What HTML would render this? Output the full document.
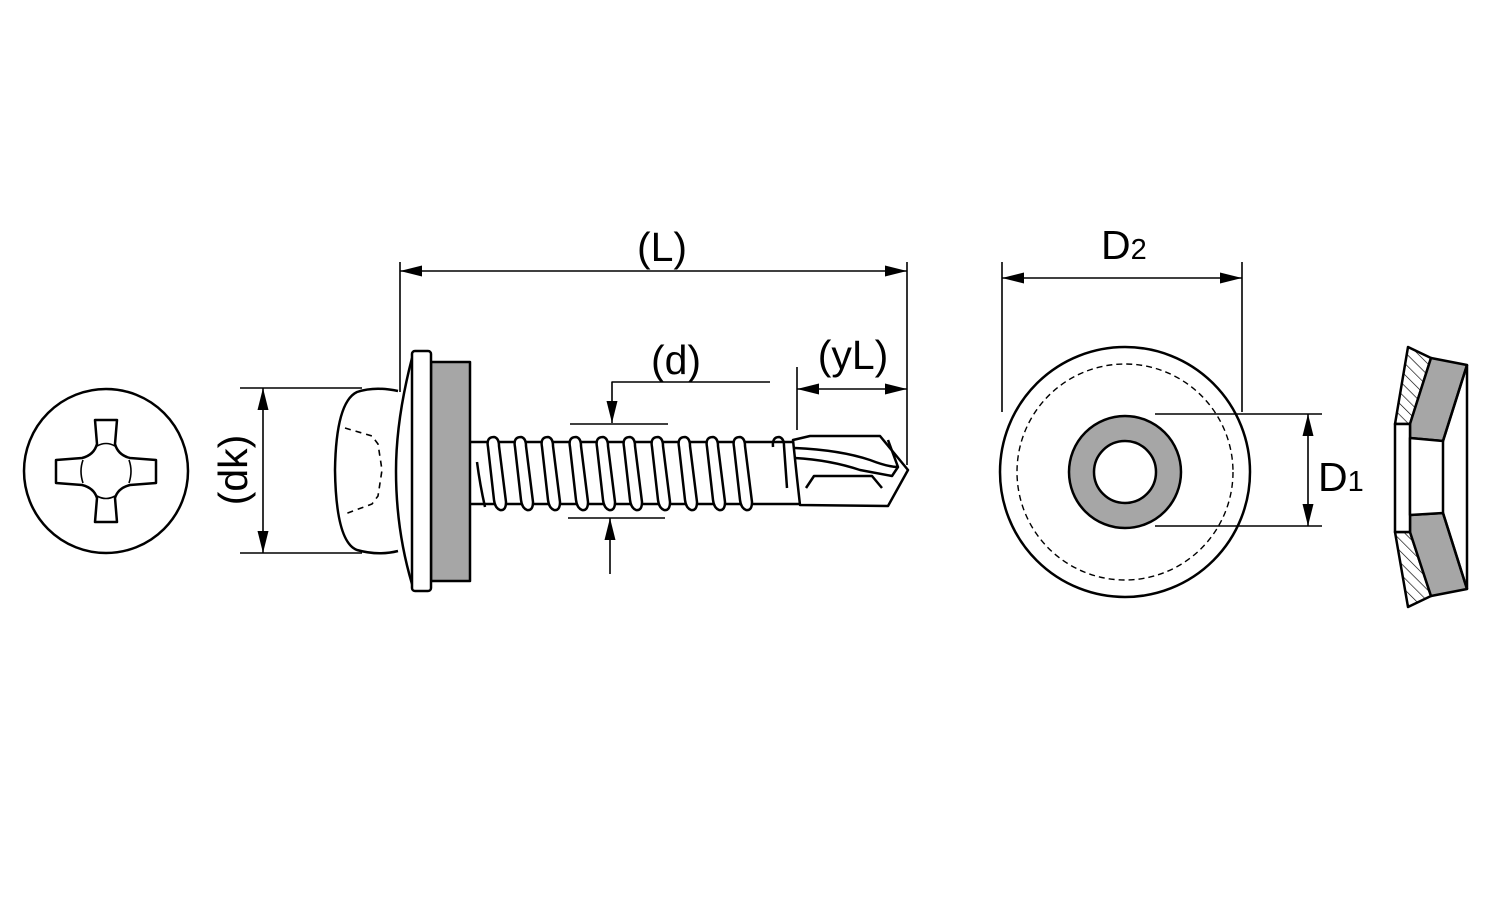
<!DOCTYPE html>
<html><head><style>body{margin:0;background:#fff}svg{display:block}text{font-family:"Liberation Sans",Arial,sans-serif;fill:#000}</style></head><body>
<svg width="1500" height="900" viewBox="0 0 1500 900" xmlns="http://www.w3.org/2000/svg">
<defs>
<marker id="b" viewBox="0 0 20 10" refX="20" refY="5" markerWidth="22" markerHeight="11" markerUnits="userSpaceOnUse" orient="auto-start-reverse"><path d="M0,0 L20,5 L0,10z" fill="#000"/></marker>
<pattern id="h" width="8" height="8" patternUnits="userSpaceOnUse" patternTransform="rotate(-45)"><line x1="0" y1="0" x2="0" y2="8" stroke="#000" stroke-width="1.3"/></pattern>
</defs>
<g fill="none" stroke="#000" stroke-width="2.5" stroke-linejoin="round">
<!-- head top view -->
<circle cx="106" cy="471" r="82"/>
<path d="M95,420 L117,420 L115,444 Q118,455 130,458 L156,460 L156,483 L130,485 Q118,488 115,498 L117,522 L95,522 L97,498 Q94,488 82,485 L56,483 L56,460 L82,458 Q94,455 97,444 Z" fill="#fff"/>
<path d="M97,446 Q106,441 115,446 M129,460 Q133,471 129,483 M115,496 Q106,501 97,496 M83,483 Q79,471 83,460" stroke-width="1.6"/>
<!-- dk -->
<line x1="240" y1="388" x2="362" y2="388" stroke-width="1.6"/>
<line x1="240" y1="553" x2="362" y2="553" stroke-width="1.6"/>
<line x1="263" y1="388" x2="263" y2="553" stroke-width="1.6" marker-start="url(#b)" marker-end="url(#b)"/>
<!-- screw head -->
<path d="M398,391 Q375,386 357,392 Q336,402 335,470 Q336,542 357,550 Q378,556 398,551" fill="#fff"/>
<path d="M345,428 L372,436 L378,444 L382,470 L378,496 L372,504 L345,514" stroke-width="1.6" stroke-dasharray="6,5"/>
<path d="M412,358 Q396,420 396,471 Q396,530 412,584"/>
<rect x="431" y="362" width="39" height="219" fill="#a6a6a6"/>
<rect x="412" y="351" width="19" height="240" rx="3" fill="#fff"/>
<!-- shank -->
<line x1="470" y1="442" x2="800" y2="442"/>
<line x1="470" y1="504" x2="800" y2="504"/>
<path d="M477,462 Q480,485 485,507"/>
<g id="t">
<path d="M488,447 Q486,437 494,437 Q499,438 499,446 L506,502 Q506,511 500,510 Q495,508 494,500 Z" fill="#fff"/>
</g>
<use href="#t" x="27"/><use href="#t" x="54"/><use href="#t" x="82"/><use href="#t" x="109"/><use href="#t" x="136"/><use href="#t" x="164"/><use href="#t" x="191"/><use href="#t" x="219"/><use href="#t" x="246"/>
<path d="M773,447 Q772,437 779,437 Q784,438 784,446 L787,488"/>
<!-- drill tip -->
<path d="M793,440 L810,436 L880,436 L908,470 L888,506 L800,505 L797,478 Z" fill="#fff"/>
<path d="M795,448 Q840,450 870,460 Q888,467 898,467 L888,440 M795,458 Q830,460 860,470 L892,476 L898,467"/>
<path d="M806,488 L814,476 L872,476 L882,488"/>
<!-- L -->
<line x1="400" y1="262" x2="400" y2="392" stroke-width="1.6"/>
<line x1="907" y1="262" x2="907" y2="465" stroke-width="1.6"/>
<line x1="400" y1="271" x2="907" y2="271" stroke-width="1.6" marker-start="url(#b)" marker-end="url(#b)"/>
<!-- d -->
<path d="M770,382 L612,382 L612,423" stroke-width="1.6" marker-end="url(#b)"/>
<line x1="570" y1="424" x2="668" y2="424" stroke-width="1.6"/>
<line x1="568" y1="518" x2="665" y2="518" stroke-width="1.6"/>
<line x1="610" y1="574" x2="610" y2="518" stroke-width="1.6" marker-end="url(#b)"/>
<!-- yL -->
<line x1="797" y1="367" x2="797" y2="430" stroke-width="1.6"/>
<line x1="797" y1="389" x2="907" y2="389" stroke-width="1.6" marker-start="url(#b)" marker-end="url(#b)"/>
<!-- washer front -->
<circle cx="1125" cy="472" r="125"/>
<circle cx="1125" cy="472" r="108" stroke-width="1.4" stroke-dasharray="6,4"/>
<circle cx="1125" cy="472" r="56" fill="#a6a6a6"/>
<circle cx="1125" cy="472" r="31" fill="#fff"/>
<line x1="1002" y1="262" x2="1002" y2="412" stroke-width="1.6"/>
<line x1="1242" y1="262" x2="1242" y2="412" stroke-width="1.6"/>
<line x1="1002" y1="278" x2="1242" y2="278" stroke-width="1.6" marker-start="url(#b)" marker-end="url(#b)"/>
<line x1="1155" y1="414" x2="1322" y2="414" stroke-width="1.6"/>
<line x1="1155" y1="526" x2="1322" y2="526" stroke-width="1.6"/>
<line x1="1308" y1="414" x2="1308" y2="526" stroke-width="1.6" marker-start="url(#b)" marker-end="url(#b)"/>
<!-- washer side -->
<polygon points="1408,347 1431,358 1410,424 1395,424" fill="url(#h)"/>
<polygon points="1408,607 1431,596 1410,532 1395,532" fill="url(#h)"/>
<polygon points="1431,358 1467,365 1443,441 1410,438 1410,424" fill="#a6a6a6"/>
<polygon points="1431,596 1467,589 1443,513 1410,515 1410,532" fill="#a6a6a6"/>
<polygon points="1395,424 1410,424 1410,532 1395,532" fill="#fff"/>
<polygon points="1410,438 1443,441 1443,513 1410,515" fill="#fff"/>
<line x1="1467" y1="365" x2="1467" y2="589"/>
<line x1="1443" y1="441" x2="1467" y2="365"/>
<line x1="1443" y1="513" x2="1467" y2="589"/>
</g>
<text x="662" y="261" font-size="41" text-anchor="middle">(L)</text>
<text x="676" y="374" font-size="41" text-anchor="middle">(d)</text>
<text x="853" y="369" font-size="41" text-anchor="middle">(yL)</text>
<text transform="translate(247,470) rotate(-90)" font-size="41" text-anchor="middle">(dk)</text>
<text x="1101" y="259" font-size="41">D<tspan font-size="29">2</tspan></text>
<text x="1318" y="491" font-size="41">D<tspan font-size="29">1</tspan></text>
</svg>
</body></html>
